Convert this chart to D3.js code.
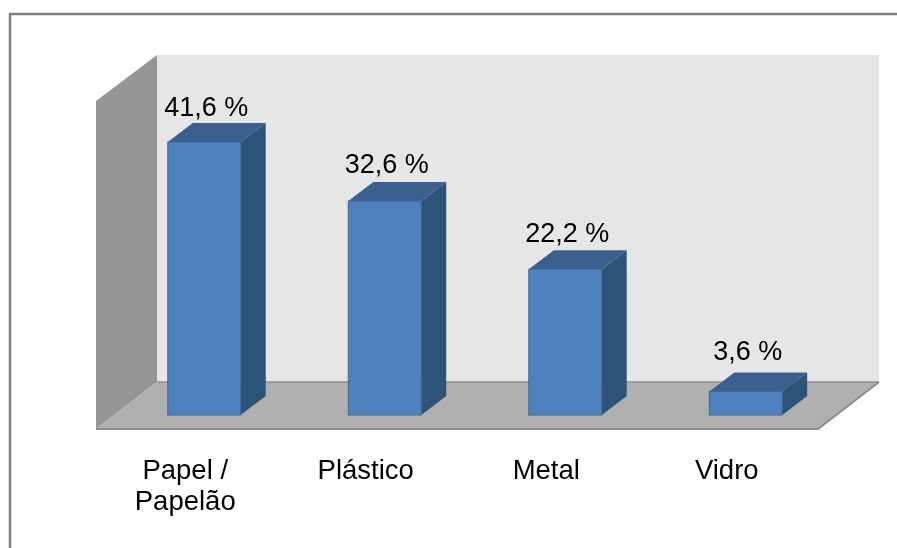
<!DOCTYPE html>
<html>
<head>
<meta charset="utf-8" />
<title>Papel, Plástico, Metal, Vidro</title>
<script src="https://d3js.org/d3.v7.min.js"></script>
<style>
html, body { margin: 0; padding: 0; background: #fff; overflow: hidden; }
svg { display: block; }
text { font-family: "Liberation Sans", Arial, sans-serif; fill: #000; }
</style>
</head>
<body>
<svg id="chart" width="897" height="548"></svg>
<script>
const categories = ["Papel /|Papelão", "Plástico", "Metal", "Vidro"];
const values = [41.6, 32.6, 22.2, 3.6];
const valueLabels = ["41,6 %", "32,6 %", "22,2 %", "3,6 %"];

const svg = d3.select("#chart");

// the source picture is a soft screenshot
const blur = svg.append("defs").append("filter").attr("id", "soft");
blur.append("feGaussianBlur").attr("stdDeviation", 0.45);

const root = svg.append("g").attr("filter", "url(#soft)");

// depth of the 3d effect
const barDx = 25, barDy = 19;
const wallDx = 61, wallDy = 47;

// plot area, front floor edge to back wall
const left = 96, right = 818, floorY = 429, topY = 55;

// floor bands, labels sit under these
const xFloor = d3.scaleBand()
  .domain(categories)
  .range([left, right])
  .paddingInner(0.596)
  .paddingOuter(0.298);

// bars stand a bit further back on the floor
const x = xFloor.copy().range([left + 18, right + 18]);

const y = d3.scaleLinear()
  .domain([0, 41.6])
  .range([415, 142]);

// gap from bar top to label baseline
const labelGap = [26, 28, 27, 31];

// frame, only top and left show
root.append("path")
  .attr("d", "M10,560V14H910")
  .attr("fill", "none")
  .attr("stroke", "#808080")
  .attr("stroke-width", 2.5);

// back wall
root.append("rect")
  .attr("x", left + wallDx).attr("y", topY)
  .attr("width", right - left).attr("height", floorY - wallDy - topY)
  .attr("fill", "#e6e6e6");

// left wall
root.append("path")
  .attr("d", d3.line()([[left, 101], [left + wallDx, topY], [left + wallDx, floorY - wallDy], [left, floorY]]) + "Z")
  .attr("fill", "#969696");

// floor
root.append("path")
  .attr("d", d3.line()([[left, floorY], [left + wallDx, floorY - wallDy], [right + wallDx, floorY - wallDy], [right, floorY]]) + "Z")
  .attr("fill", "#b0b0b0");
root.append("path")
  .attr("d", d3.line()([[right + wallDx, floorY - wallDy], [right, floorY], [left, floorY]]))
  .attr("fill", "none").attr("stroke", "#8c8c8c").attr("stroke-width", 2);
root.append("path")
  .attr("d", d3.line()([[left + wallDx, floorY - wallDy], [right + wallDx, floorY - wallDy]]))
  .attr("fill", "none").attr("stroke", "#909090").attr("stroke-width", 1.5);

const bars = root.append("g").selectAll("g")
  .data(values)
  .join("g");

const bw = x.bandwidth();

// right side
bars.append("path")
  .attr("d", (d, i) => {
    const x1 = x(categories[i]) + bw;
    return d3.line()([[x1, y(d)], [x1 + barDx, y(d) - barDy], [x1 + barDx, y(0) - barDy], [x1, y(0)]]) + "Z";
  })
  .attr("fill", "#2f5279");

// top
bars.append("path")
  .attr("d", (d, i) => {
    const x0 = x(categories[i]);
    return d3.line()([[x0, y(d)], [x0 + barDx, y(d) - barDy], [x0 + bw + barDx, y(d) - barDy], [x0 + bw, y(d)]]) + "Z";
  })
  .attr("fill", "#3a6090");

// front
bars.append("rect")
  .attr("x", (d, i) => x(categories[i]))
  .attr("y", d => y(d))
  .attr("width", bw)
  .attr("height", d => y(0) - y(d))
  .attr("fill", "#4f81bd")
  .attr("stroke", "#3d6797")
  .attr("stroke-width", 1);

// value labels
root.append("g").selectAll("text")
  .data(valueLabels)
  .join("text")
  .attr("x", (d, i) => x(categories[i]) + bw / 2 + 2)
  .attr("y", (d, i) => y(values[i]) - labelGap[i])
  .attr("text-anchor", "middle")
  .attr("font-size", 27)
  .text(d => d);

// category labels
root.append("g").selectAll("text")
  .data(categories)
  .join("text")
  .attr("text-anchor", "middle")
  .attr("font-size", 27.5)
  .each(function(d) {
    d3.select(this).selectAll("tspan")
      .data(d.split("|"))
      .join("tspan")
      .attr("x", xFloor(d) + bw / 2 - 1)
      .attr("y", (t, j) => 479 + j * 31)
      .text(t => t);
  });
</script>
</body>
</html>
